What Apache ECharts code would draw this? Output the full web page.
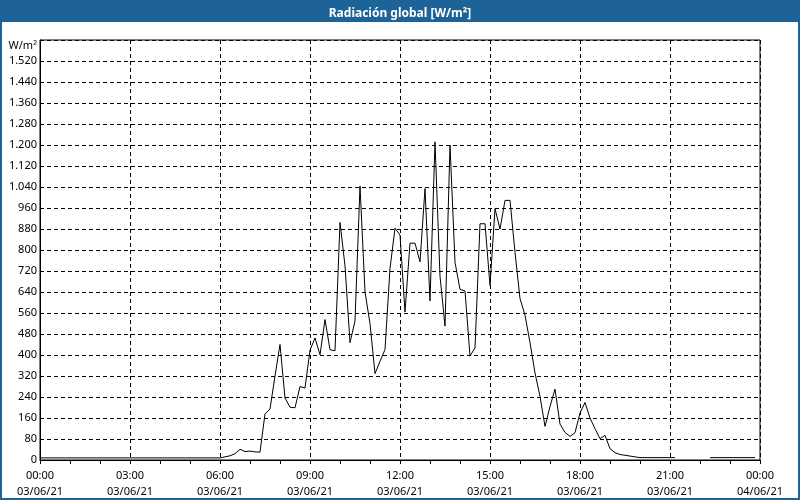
<!DOCTYPE html>
<html>
<head>
<meta charset="utf-8">
<script src="https://cdn.jsdelivr.net/npm/echarts@6/dist/echarts.min.js"></script>
<style>
html,body{margin:0;padding:0;background:#ffffff;}
#chart{width:800px;height:500px;}
</style>
</head>
<body>
<div id="chart"></div>
<script>
// 10-minute samples from 00:00 (index 0) to 23:50 (index 143); null = no data
var radiation = [
  // 00:00 - 05:50
  8,8,8,8,8,8, 8,8,8,8,8,8, 8,8,8,8,8,8, 8,8,8,8,8,8, 8,8,8,8,8,8, 8,8,8,8,8,8,
  // 06:00 - 06:50
  8,12,16,24,41,32,
  // 07:00 - 07:50
  34,31,30,176,194,320,
  // 08:00 - 08:50
  440,236,201,199,280,274,
  // 09:00 - 09:50
  418,465,401,535,420,416,
  // 10:00 - 10:50
  905,740,447,530,1044,640,
  // 11:00 - 11:50
  520,329,376,421,730,883,
  // 12:00 - 12:50
  857,564,826,826,755,1034,
  // 13:00 - 13:50
  606,1212,700,510,1200,753,
  // 14:00 - 14:50
  650,644,396,427,900,900,
  // 15:00 - 15:50
  665,957,880,989,989,791,
  // 16:00 - 16:50
  615,552,447,332,242,128,
  // 17:00 - 17:50
  204,270,137,105,90,104,
  // 18:00 - 18:50
  179,219,160,119,81,94,
  // 19:00 - 19:50
  43,28,21,18,15,12,
  // 20:00 - 20:50
  9,9,9,9,9,9,
  // 21:00 - 21:50
  9,9,null,null,null,null,
  // 22:00 - 22:50
  null,null,9,9,9,9,
  // 23:00 - 23:50
  9,9,9,9,9,9
];
var timeLabels = ['00:00','03:00','06:00','09:00','12:00','15:00','18:00','21:00','00:00'];
var dateLabels = ['03/06/21','03/06/21','03/06/21','03/06/21','03/06/21','03/06/21','03/06/21','03/06/21','04/06/21'];
var titleText = 'Radiación global [W/m²]';
var unitText = 'W/m²';

var seriesData = radiation.map(function (v, i) { return [i * 10, v]; });

var FONT = 'Noto Sans';
var BLUE = '#1e6397';

function thousands(v) {
  var s = String(v);
  if (v >= 1000) s = s.slice(0, s.length - 3) + '.' + s.slice(s.length - 3);
  return s;
}

var chart = echarts.init(document.getElementById('chart'), null, {renderer: 'canvas'});
chart.setOption({
  animation: false,
  backgroundColor: '#ffffff',
  textStyle: {fontFamily: FONT},
  graphic: [
    {type: 'rect', z: -1, shape: {x: 0, y: 0, width: 800, height: 22}, style: {fill: BLUE}},
    {type: 'rect', z: 100, shape: {x: 1, y: 1, width: 798, height: 498}, style: {fill: null, stroke: BLUE, lineWidth: 2}}
  ],
  title: {
    text: titleText,
    left: 'center',
    top: 3,
    textStyle: {color: '#ffffff', fontSize: 12, fontWeight: 'bold', fontFamily: FONT}
  },
  grid: {
    left: 40, right: 40, top: 40, bottom: 40,
    show: true, backgroundColor: '#ffffff', borderColor: '#000000', borderWidth: 1
  },
  xAxis: {
    type: 'value',
    min: 0, max: 1440, interval: 180,
    axisLine: {show: true, lineStyle: {color: '#000000', width: 1}},
    axisTick: {show: true, length: 4, lineStyle: {color: '#000000'}},
    minorTick: {show: true, splitNumber: 3, length: 4, lineStyle: {color: '#000000'}},
    splitLine: {show: true, lineStyle: {color: '#000000', width: 1, type: [4, 3]}},
    axisLabel: {
      color: '#000000', fontSize: 11, fontFamily: FONT, margin: 8, lineHeight: 16,
      showMinLabel: true, showMaxLabel: true,
      formatter: function (v) {
        var k = Math.round(v / 180);
        return timeLabels[k] + '\n' + dateLabels[k];
      }
    }
  },
  yAxis: {
    type: 'value',
    min: 0, max: 1600, interval: 80,
    name: unitText,
    nameLocation: 'end',
    nameGap: -6,
    nameTextStyle: {color: '#000000', fontSize: 11, fontFamily: FONT, align: 'right', verticalAlign: 'middle', padding: [0, 3, 0, 0]},
    axisLine: {show: true, lineStyle: {color: '#000000', width: 1}},
    axisTick: {show: false},
    splitLine: {show: true, lineStyle: {color: '#000000', width: 1, type: [4, 3]}},
    axisLabel: {
      color: '#000000', fontSize: 11, fontFamily: FONT, margin: 3,
      formatter: function (v) { return v >= 1600 ? '' : thousands(v); }
    }
  },
  series: [{
    type: 'line',
    data: seriesData,
    symbol: 'none',
    connectNulls: false,
    lineStyle: {color: '#000000', width: 1},
    itemStyle: {color: '#000000'}
  }]
});
</script>
</body>
</html>
